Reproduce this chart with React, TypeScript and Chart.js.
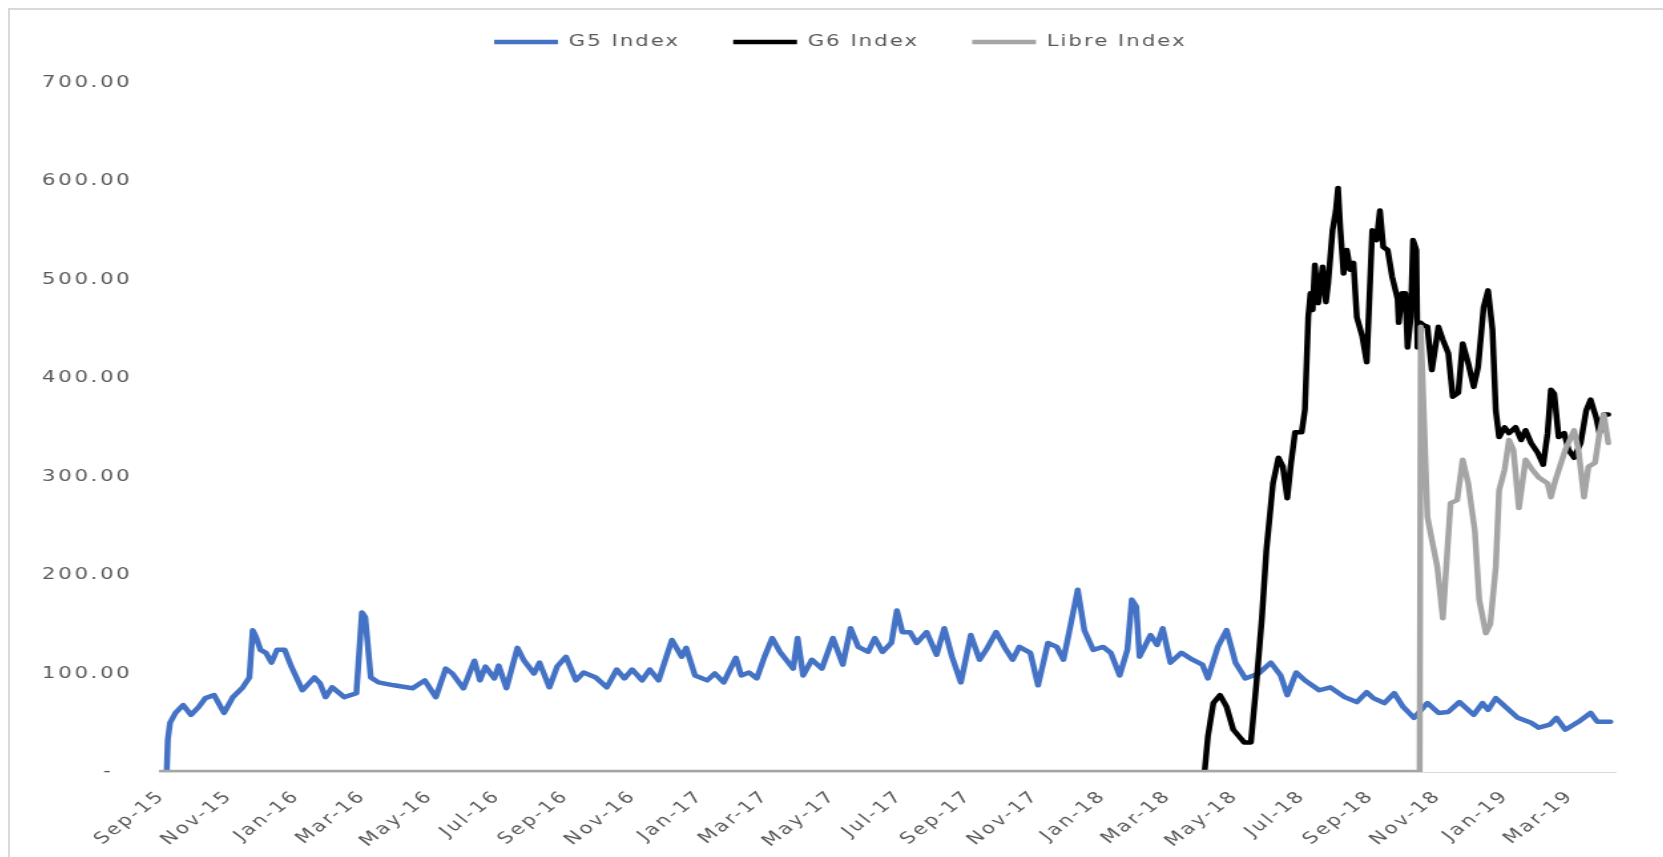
import React, { useEffect, useRef } from 'react';
import { Chart, registerables } from 'chart.js';

Chart.register(...registerables);

// ---------- data ----------
const seriesNames = ['G5 Index', 'G6 Index', 'Libre Index'];

const g5Dates = [
  '2015-09-05', '2015-09-06', '2015-09-08', '2015-09-13', '2015-09-20', '2015-09-27', '2015-10-04', '2015-10-10',
  '2015-10-18', '2015-10-27', '2015-11-04', '2015-11-13', '2015-11-19', '2015-11-22', '2015-11-25', '2015-11-29',
  '2015-12-04', '2015-12-09', '2015-12-14', '2015-12-21', '2015-12-27', '2016-01-06', '2016-01-17', '2016-01-22',
  '2016-01-27', '2016-02-02', '2016-02-13', '2016-02-24', '2016-02-29', '2016-03-03', '2016-03-08', '2016-03-15',
  '2016-03-29', '2016-04-15', '2016-04-26', '2016-05-06', '2016-05-15', '2016-05-21', '2016-05-31', '2016-06-10',
  '2016-06-15', '2016-06-20', '2016-06-28', '2016-07-02', '2016-07-09', '2016-07-19', '2016-07-25', '2016-08-03',
  '2016-08-08', '2016-08-17', '2016-08-24', '2016-09-01', '2016-09-10', '2016-09-17', '2016-09-28', '2016-10-08',
  '2016-10-17', '2016-10-24', '2016-10-31', '2016-11-09', '2016-11-16', '2016-11-24', '2016-12-06', '2016-12-15',
  '2016-12-19', '2016-12-27', '2017-01-07', '2017-01-14', '2017-01-22', '2017-02-02', '2017-02-07', '2017-02-14',
  '2017-02-21', '2017-02-28', '2017-03-07', '2017-03-14', '2017-03-26', '2017-03-30', '2017-04-04', '2017-04-12',
  '2017-04-21', '2017-05-01', '2017-05-10', '2017-05-17', '2017-05-24', '2017-06-02', '2017-06-08', '2017-06-15',
  '2017-06-23', '2017-06-28', '2017-07-03', '2017-07-10', '2017-07-16', '2017-07-25', '2017-08-03', '2017-08-10',
  '2017-08-17', '2017-08-25', '2017-09-03', '2017-09-11', '2017-09-17', '2017-09-26', '2017-10-04', '2017-10-11',
  '2017-10-17', '2017-10-27', '2017-11-03', '2017-11-12', '2017-11-20', '2017-11-26', '2017-12-01', '2017-12-09',
  '2017-12-15', '2017-12-23', '2018-01-01', '2018-01-08', '2018-01-16', '2018-01-23', '2018-01-27', '2018-01-31',
  '2018-02-03', '2018-02-13', '2018-02-19', '2018-02-24', '2018-03-03', '2018-03-13', '2018-03-23', '2018-04-01',
  '2018-04-06', '2018-04-15', '2018-04-23', '2018-05-01', '2018-05-10', '2018-05-22', '2018-06-02', '2018-06-11',
  '2018-06-17', '2018-06-25', '2018-07-03', '2018-07-16', '2018-07-26', '2018-08-08', '2018-08-19', '2018-08-28',
  '2018-09-03', '2018-09-13', '2018-09-22', '2018-09-30', '2018-10-10', '2018-10-22', '2018-11-01', '2018-11-10',
  '2018-11-20', '2018-12-03', '2018-12-11', '2018-12-16', '2018-12-23', '2019-01-02', '2019-01-12', '2019-01-24',
  '2019-01-31', '2019-02-10', '2019-02-16', '2019-02-24', '2019-03-08', '2019-03-19', '2019-03-25', '2019-04-06',
];
const g5Values = [
  0, 33, 50, 60, 68, 58, 66, 75,
  78, 60, 76, 86, 96, 144, 137, 124,
  121, 111, 124, 124, 107, 83, 96, 90,
  76, 86, 76, 80, 162, 157, 96, 91,
  88, 85, 93, 76, 105, 100, 85, 113,
  93, 107, 95, 108, 85, 126, 113, 100,
  111, 86, 107, 117, 93, 101, 96, 86,
  104, 95, 104, 93, 104, 93, 134, 117,
  126, 98, 93, 100, 91, 116, 98, 101,
  95, 117, 136, 122, 105, 136, 98, 114,
  105, 136, 109, 146, 127, 122, 136, 122,
  131, 164, 142, 142, 131, 142, 119, 146,
  117, 91, 139, 114, 124, 142, 126, 114,
  127, 121, 88, 131, 127, 114, 141, 185,
  144, 124, 127, 121, 98, 124, 175, 168,
  117, 139, 129, 146, 111, 121, 114, 109,
  95, 127, 144, 111, 95, 100, 111, 98,
  78, 101, 93, 83, 86, 76, 71, 81,
  75, 70, 80, 66, 55, 70, 60, 61,
  71, 58, 70, 63, 75, 65, 55, 50,
  45, 48, 55, 43, 51, 60, 51, 51,
];

const g6Dates = [
  '2018-04-03', '2018-04-06', '2018-04-11', '2018-04-17', '2018-04-23', '2018-04-29', '2018-05-09', '2018-05-15',
  '2018-05-20', '2018-05-25', '2018-05-29', '2018-06-01', '2018-06-04', '2018-06-09', '2018-06-13', '2018-06-17',
  '2018-06-20', '2018-06-24', '2018-06-30', '2018-07-03', '2018-07-06', '2018-07-08', '2018-07-10', '2018-07-12',
  '2018-07-15', '2018-07-19', '2018-07-22', '2018-07-24', '2018-07-28', '2018-07-31', '2018-08-02', '2018-08-04',
  '2018-08-07', '2018-08-10', '2018-08-13', '2018-08-16', '2018-08-19', '2018-08-24', '2018-08-28', '2018-09-02',
  '2018-09-06', '2018-09-09', '2018-09-12', '2018-09-16', '2018-09-20', '2018-09-25', '2018-09-26', '2018-09-29',
  '2018-10-02', '2018-10-04', '2018-10-07', '2018-10-09', '2018-10-12', '2018-10-13', '2018-10-16', '2018-10-18',
  '2018-10-22', '2018-10-26', '2018-11-01', '2018-11-05', '2018-11-10', '2018-11-14', '2018-11-19', '2018-11-23',
  '2018-11-28', '2018-12-03', '2018-12-07', '2018-12-12', '2018-12-16', '2018-12-20', '2018-12-23', '2018-12-26',
  '2018-12-31', '2019-01-04', '2019-01-10', '2019-01-15', '2019-01-19', '2019-01-24', '2019-01-30', '2019-02-04',
  '2019-02-08', '2019-02-11', '2019-02-14', '2019-02-18', '2019-02-23', '2019-02-27', '2019-03-04', '2019-03-10',
  '2019-03-15', '2019-03-19', '2019-03-24', '2019-03-27', '2019-03-31', '2019-04-04',
];
const g6Values = [
  0, 36, 70, 78, 66, 43, 30, 30,
  90, 157, 225, 259, 293, 319, 310, 278,
  310, 345, 345, 368, 462, 486, 469, 515,
  476, 513, 477, 496, 550, 570, 593, 553,
  506, 530, 510, 517, 462, 442, 416, 550,
  540, 570, 533, 530, 503, 480, 456, 486,
  486, 431, 462, 540, 530, 431, 456, 454,
  452, 408, 452, 439, 425, 381, 385, 435,
  415, 391, 411, 472, 489, 449, 367, 340,
  350, 344, 350, 337, 347, 334, 324, 312,
  344, 388, 384, 340, 344, 327, 319, 334,
  367, 378, 360, 344, 363, 363,
];

const libreDates = [
  '2015-08-29', '2018-10-15', '2018-10-16', '2018-10-22', '2018-10-26', '2018-10-31', '2018-11-05', '2018-11-12',
  '2018-11-18', '2018-11-23', '2018-11-28', '2018-12-04', '2018-12-08', '2018-12-14', '2018-12-18', '2018-12-23',
  '2018-12-26', '2018-12-31', '2019-01-04', '2019-01-08', '2019-01-13', '2019-01-19', '2019-01-25', '2019-01-31',
  '2019-02-08', '2019-02-11', '2019-02-15', '2019-02-24', '2019-03-04', '2019-03-08', '2019-03-13', '2019-03-17',
  '2019-03-23', '2019-03-27', '2019-03-31', '2019-04-04',
];
const libreValues = [
  0, 0, 452, 259, 236, 208, 156, 273,
  276, 317, 293, 245, 175, 141, 150, 208,
  286, 307, 337, 327, 268, 317, 307, 299,
  293, 279, 296, 327, 347, 327, 279, 310,
  314, 344, 363, 334,
];

const xTickMonths = [
  '2015-09-01', '2015-11-01', '2016-01-01', '2016-03-01', '2016-05-01', '2016-07-01', '2016-09-01', '2016-11-01',
  '2017-01-01', '2017-03-01', '2017-05-01', '2017-07-01', '2017-09-01', '2017-11-01', '2018-01-01', '2018-03-01',
  '2018-05-01', '2018-07-01', '2018-09-01', '2018-11-01', '2019-01-01', '2019-03-01',
];
const xRange = ['2015-08-29', '2019-04-11'];
const yTicks = { min: 0, max: 700, step: 100 };
const monthNames = ['Jan', 'Feb', 'Mar', 'Apr', 'May', 'Jun', 'Jul', 'Aug', 'Sep', 'Oct', 'Nov', 'Dec'];

// ---------- helpers ----------
const DAY_MS = 86400000;
const toDay = (s: string) => Date.parse(s + 'T00:00:00Z') / DAY_MS;
const fmtMonth = (v: number) => {
  const d = new Date(Math.round(v) * DAY_MS);
  return monthNames[d.getUTCMonth()] + '-' + String(d.getUTCFullYear() % 100).padStart(2, '0');
};
const toPoints = (dates: string[], values: number[]) => dates.map((d, i) => ({ x: toDay(d), y: values[i] }));

// ---------- layout / style ----------
const CANVAS_W = 1250;
const CANVAS_H = 847;
const STRETCH = 1.33;
const TICK_FONT = { family: '"DejaVu Sans", sans-serif', size: 16 };
const LEGEND_FONT = { family: '"DejaVu Sans", sans-serif', size: 16 };
const TEXT_COLOR = '#595959';
const LEGEND_PAD = 40;
const LEGEND_LEFT = 324;
const LEGEND_TOP = -16;
const LEGEND_SPACING = '1.5px';
const TICK_SPACING = '2px';

const legendPlacer = {
  id: 'legendPlacer',
  afterLayout(chart: any) {
    const lg = chart.legend;
    if (!lg) return;
    const w = lg.right - lg.left;
    const h = lg.bottom - lg.top;
    lg.left = LEGEND_LEFT;
    lg.right = LEGEND_LEFT + w;
    lg.top = LEGEND_TOP;
    lg.bottom = LEGEND_TOP + h;
  },
};

const textSpacing = {
  id: 'textSpacing',
  beforeLayout(chart: any) {
    chart.ctx.letterSpacing = LEGEND_SPACING;
  },
  afterLayout(chart: any) {
    chart.ctx.letterSpacing = '0px';
  },
  beforeDraw(chart: any) {
    chart.ctx.letterSpacing = LEGEND_SPACING;
  },
  afterDatasetsDraw(chart: any) {
    chart.ctx.letterSpacing = TICK_SPACING;
  },
  afterDraw(chart: any) {
    chart.ctx.letterSpacing = '0px';
  },
};

export default function App() {
  const ref = useRef<HTMLCanvasElement>(null);

  useEffect(() => {
    if (!ref.current) return;
    const lineCommon = {
      pointRadius: 0,
      pointHoverRadius: 0,
      borderWidth: 4.5,
      tension: 0,
      borderJoinStyle: 'round' as const,
      borderCapStyle: 'round' as const,
      clip: 0,
      fill: false,
    };
    const chart = new Chart(ref.current, {
      type: 'line',
      data: {
        datasets: [
          { ...lineCommon, label: seriesNames[0], data: toPoints(g5Dates, g5Values), borderColor: '#4472C4', backgroundColor: '#4472C4', order: 2 },
          { ...lineCommon, label: seriesNames[1], data: toPoints(g6Dates, g6Values), borderColor: '#000000', backgroundColor: '#000000', order: 1 },
          { ...lineCommon, label: seriesNames[2], data: toPoints(libreDates, libreValues), borderColor: '#A5A5A5', backgroundColor: '#A5A5A5', order: 0 },
        ],
      },
      options: {
        responsive: false,
        animation: false,
        events: [],
        layout: { padding: { left: 0, right: CANVAS_W - 1207.5, top: 6.5, bottom: 0 } },
        plugins: {
          legend: {
            position: 'top',
            align: 'start',
            labels: {
              usePointStyle: true,
              pointStyle: 'line',
              pointStyleWidth: 48,
              padding: LEGEND_PAD,
              color: TEXT_COLOR,
              font: LEGEND_FONT,
              sort: (a: any, b: any) => a.datasetIndex - b.datasetIndex,
            },
          },
          tooltip: { enabled: false },
        },
        scales: {
          x: {
            type: 'linear',
            min: toDay(xRange[0]),
            max: toDay(xRange[1]),
            grid: { display: false, drawTicks: false },
            border: { display: true, color: '#d9d9d9', width: 1 },
            ticks: {
              z: 1,
              autoSkip: false,
              minRotation: 45,
              maxRotation: 45,
              padding: 15,
              color: TEXT_COLOR,
              font: TICK_FONT,
              callback: (v: any) => fmtMonth(Number(v)),
            },
            afterBuildTicks: (scale: any) => {
              scale.ticks = xTickMonths.map((m) => ({ value: toDay(m) }));
            },
            afterFit: (scale: any) => {
              scale.height = 85;
            },
          },
          y: {
            min: yTicks.min,
            max: yTicks.max,
            grid: { display: false, drawTicks: false },
            border: { display: false },
            ticks: {
              z: 1,
              stepSize: yTicks.step,
              padding: 20,
              color: TEXT_COLOR,
              font: TICK_FONT,
              callback: (v: any) => (Number(v) === 0 ? '-  ' : Number(v).toFixed(2)),
            },
            afterFit: (scale: any) => {
              scale.width = 112;
            },
          },
        },
      },
      plugins: [legendPlacer, textSpacing],
    } as any);
    return () => chart.destroy();
  }, []);

  return (
    <div
      style={{
        position: 'fixed',
        left: 8,
        top: 8,
        width: 1700,
        height: 900,
        borderLeft: '2px solid #d9d9d9',
        borderTop: '2px solid #d9d9d9',
        background: '#ffffff',
        overflow: 'hidden',
      }}
    >
      <canvas
        ref={ref}
        width={CANVAS_W}
        height={CANVAS_H}
        style={{
          display: 'block',
          width: CANVAS_W + 'px',
          height: CANVAS_H + 'px',
          transform: `scaleX(${STRETCH})`,
          transformOrigin: '0 0',
        }}
      />
    </div>
  );
}
